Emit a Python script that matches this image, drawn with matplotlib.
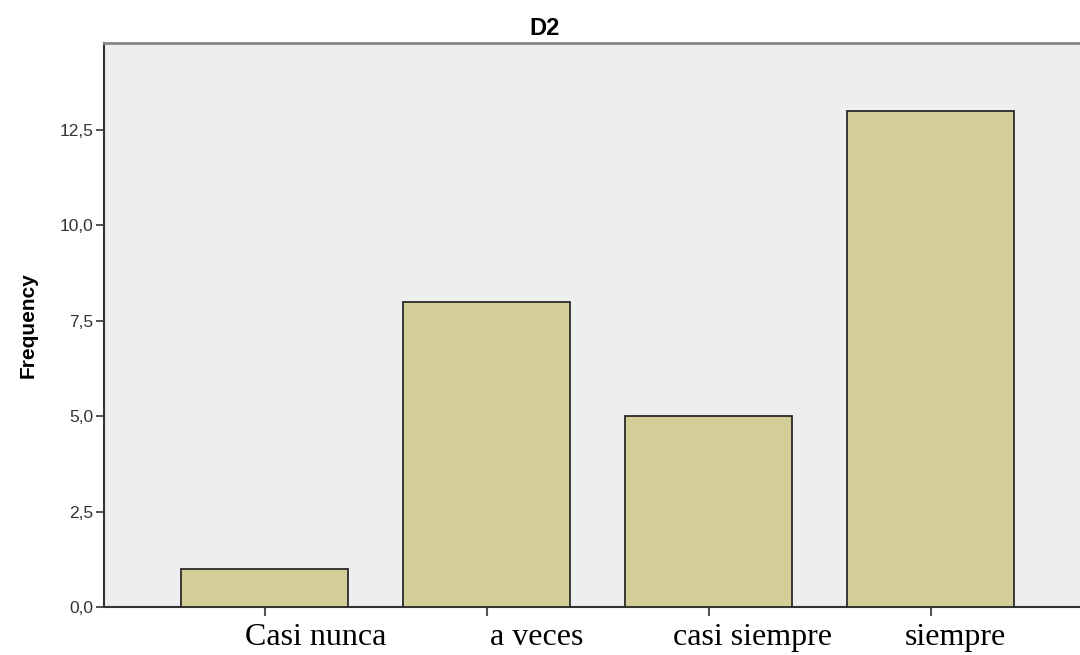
import matplotlib
matplotlib.use("Agg")
import matplotlib.pyplot as plt
import matplotlib.transforms as mtransforms
from matplotlib.ticker import FuncFormatter

categories = ["Casi nunca", "a veces", "casi siempre", "siempre"]
frequencies = [1, 8, 5, 13]
y_ticks = [0, 2.5, 5, 7.5, 10, 12.5]
title = "D2"
y_label = "Frequency"

fig = plt.figure(figsize=(10.8, 6.55), dpi=100)
ax = fig.add_axes([104/1080, 48/655, 976/1080, 564/655])
ax.set_facecolor("#eeeeee")

x = list(range(len(categories)))
ax.bar(x, frequencies, width=0.752, color="#d3ce97", edgecolor="#2a2a2a", linewidth=1.3, zorder=3)

ax.set_xlim(-0.723, 3.673)
ax.set_ylim(0, 14.78)

ax.set_yticks(y_ticks)
ax.yaxis.set_major_formatter(FuncFormatter(lambda v, p: f"{v:.1f}".replace(".", ",")))
ax.tick_params(axis="y", direction="out", length=6, width=1.2, color="#333333",
               labelsize=12.5, labelcolor="#333333", pad=1.5)
for lbl in ax.get_yticklabels():
    lbl.set_fontfamily("Liberation Sans")

ax.set_xticks(x)
ax.set_xticklabels(categories, fontfamily="Liberation Serif", fontsize=23)
ax.tick_params(axis="x", direction="out", length=6.5, width=1.5, color="#555555", pad=5)
label_shift_px = [51, 50, 44, 25]
for lbl, dx in zip(ax.get_xticklabels(), label_shift_px):
    lbl.set_transform(lbl.get_transform() + mtransforms.ScaledTranslation(dx/100, 0, fig.dpi_scale_trans))

ax.spines["right"].set_visible(False)
ax.spines["top"].set_color("#888888")
ax.spines["top"].set_linewidth(2)
ax.spines["left"].set_color("#333333")
ax.spines["left"].set_linewidth(1.5)
ax.spines["bottom"].set_color("#333333")
ax.spines["bottom"].set_linewidth(1.5)

ax.set_title(title, fontfamily="Liberation Sans", fontweight="bold", fontsize=17, x=0.451, pad=6)
ax.set_ylabel(y_label, fontfamily="Liberation Sans", fontweight="bold", fontsize=15)
ax.yaxis.set_label_coords(-0.0676, 0.5)

fig.savefig("out.png", dpi=100)
